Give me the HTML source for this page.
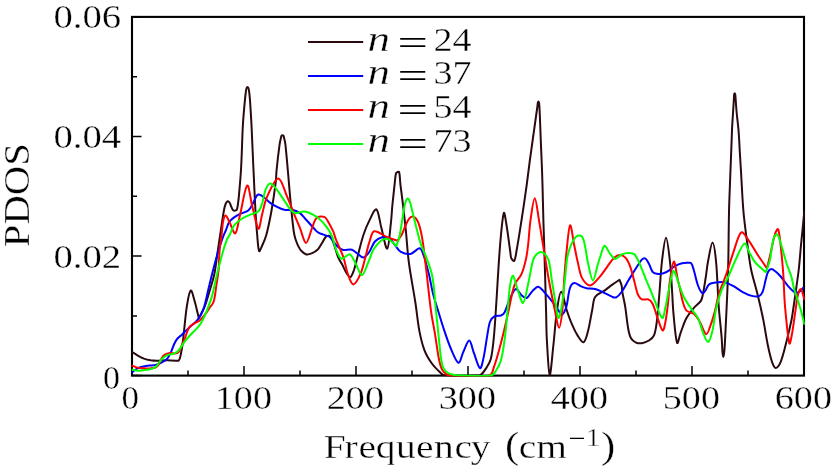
<!DOCTYPE html>
<html><head><meta charset="utf-8"><title>PDOS</title>
<style>html,body{margin:0;padding:0;background:#fff}svg{display:block}text{font-family:"Liberation Serif",serif;fill:#000;stroke:#fff;stroke-width:0.36px}</style></head>
<body>
<svg width="833" height="466" viewBox="0 0 833 466">
<rect width="833" height="466" fill="#fff"/>
<defs><clipPath id="cp"><rect x="131.4" y="16.3" width="673.4" height="360.3"/></clipPath></defs>
<path d="M132.0 375.6V366.1M188.0 375.6V370.6M244.0 375.6V366.1M300.0 375.6V370.6M356.0 375.6V366.1M412.0 375.6V370.6M468.0 375.6V366.1M524.0 375.6V370.6M580.0 375.6V366.1M636.0 375.6V370.6M692.0 375.6V366.1M748.0 375.6V370.6M804.0 375.6V366.1M132.0 375.6H141.5M132.0 315.9H137.0M132.0 256.1H141.5M132.0 196.3H137.0M132.0 136.5H141.5M132.0 76.7H137.0M132.0 16.9H141.5" stroke="#000" stroke-width="1.5" fill="none"/>
<rect x="132.0" y="16.9" width="672.0" height="358.7" fill="none" stroke="#000" stroke-width="2.1"/>
<g clip-path="url(#cp)" fill="none" stroke-linejoin="round" stroke-linecap="butt">
<path d="M131.5 351.6C133.5 352.8 135.4 354.2 137.4 355.3C139.5 356.5 141.7 357.7 144.0 358.6C146.2 359.4 148.5 359.9 150.7 360.3C152.6 360.6 154.2 360.8 156.3 360.8C159.7 360.8 163.4 360.3 167.0 360.3C170.8 360.3 174.7 360.6 178.5 360.8C179.0 360.0 179.6 359.4 179.9 358.3C180.7 355.6 181.3 352.4 181.8 349.2C182.5 345.0 182.9 341.1 183.5 336.0C184.6 326.7 185.4 315.4 186.9 306.0C187.8 300.2 189.3 291.3 190.8 290.5C192.0 289.9 193.6 297.7 194.8 301.7C196.3 307.0 197.5 312.8 198.9 318.3C200.9 314.2 203.2 310.5 204.9 306.0C207.1 300.1 208.9 293.4 210.7 287.3C212.1 282.4 213.5 278.4 214.5 273.2C216.0 265.5 216.9 256.6 218.1 248.7C219.1 242.2 219.9 236.3 220.9 230.0C221.9 223.4 222.9 216.1 224.0 210.0C224.5 207.3 225.0 205.4 225.8 203.5C226.2 202.5 227.0 201.4 227.7 201.2C228.2 201.1 229.1 201.8 229.5 202.5C230.3 203.7 230.6 205.4 231.3 206.8C231.9 208.0 232.4 209.5 233.2 210.3C233.7 210.8 234.6 210.7 235.2 210.6C235.8 210.5 236.5 210.4 236.8 209.8C237.4 208.4 237.6 206.5 237.9 204.5C238.3 201.5 238.7 198.7 239.0 194.8C239.7 186.5 240.6 177.6 241.1 168.0C241.9 154.3 242.1 138.6 242.9 125.0C243.4 115.7 244.3 107.2 245.0 99.3C245.3 96.1 245.6 93.9 245.9 91.5C246.1 90.2 246.2 89.0 246.6 88.0C246.8 87.5 247.2 87.0 247.5 87.0C247.8 87.0 248.2 87.5 248.4 88.0C248.8 89.0 248.9 90.2 249.1 91.5C249.4 93.9 249.7 96.1 249.9 99.3C250.5 107.2 251.0 115.7 251.5 125.0C252.2 138.6 252.7 153.7 253.4 168.0C254.1 182.4 254.7 197.6 255.5 211.2C256.0 219.9 256.5 227.4 257.2 235.0C257.7 240.7 258.0 248.5 259.1 251.0C259.6 252.2 261.1 248.0 262.0 246.0C263.5 242.6 265.1 239.3 266.3 235.0C268.3 227.7 269.9 219.4 271.4 211.2C273.1 201.8 274.6 191.4 275.7 182.4C276.3 177.7 276.1 174.6 276.6 170.0C277.4 161.9 278.5 152.2 279.6 144.3C280.0 141.5 280.5 139.9 280.9 138.0C281.1 137.0 281.2 136.2 281.6 135.6C281.8 135.3 282.2 135.2 282.5 135.2C282.8 135.2 283.2 135.3 283.4 135.6C283.8 136.2 283.9 137.0 284.1 138.0C284.5 139.9 285.1 141.5 285.4 144.3C286.3 152.2 287.0 161.4 287.8 170.0C288.6 178.9 289.3 187.8 290.1 196.8C291.0 206.3 292.0 216.7 293.0 225.6C293.4 229.5 293.8 232.1 294.4 235.0C294.8 236.9 295.2 238.3 295.8 240.0C296.4 241.8 297.1 243.7 298.0 245.5C298.9 247.2 299.7 249.1 301.0 250.5C302.5 252.1 304.4 254.0 306.3 254.5C308.1 254.9 310.4 254.0 312.2 253.2C314.3 252.3 316.4 250.9 318.0 249.3C319.6 247.6 320.6 245.3 321.9 243.3C323.2 241.2 324.2 238.6 325.7 237.0C326.5 236.1 327.7 235.7 328.6 235.8C329.6 235.9 330.8 236.7 331.5 237.8C332.8 240.1 333.5 243.1 334.5 246.0C335.8 249.7 336.8 254.1 338.3 257.7C339.4 260.3 340.9 262.1 342.2 264.5C343.6 267.2 344.7 270.4 346.3 272.8C347.4 274.6 349.3 277.5 350.4 277.1C351.8 276.6 353.0 272.7 354.0 270.0C355.4 265.9 356.3 261.4 357.6 256.6C359.4 249.7 361.2 241.8 363.4 235.0C365.1 229.9 366.9 225.4 369.2 220.9C371.3 216.8 374.6 208.3 376.4 209.3C378.7 210.7 379.7 221.8 381.4 228.1C383.3 234.9 385.7 249.4 387.2 248.7C388.9 247.9 389.8 231.9 390.8 223.8C391.6 217.3 391.8 211.3 392.4 205.0C393.1 198.2 393.9 190.8 394.6 184.3C395.1 180.2 395.2 176.4 396.0 173.2C396.2 172.4 396.9 172.3 397.5 172.1C398.0 171.9 399.0 171.4 399.2 172.2C400.0 175.5 399.9 179.9 400.4 184.3C401.2 190.9 402.2 197.9 403.0 205.0C404.0 213.4 405.0 222.1 405.9 231.0C406.9 241.1 407.4 251.3 408.8 262.0C410.5 275.0 413.3 289.1 415.3 302.0C416.9 312.3 417.7 322.2 419.5 331.6C420.8 338.3 422.3 344.5 424.5 350.3C426.3 355.1 429.0 359.4 431.7 363.3C433.8 366.4 436.5 368.8 438.9 371.2C440.4 372.7 441.5 374.1 443.2 374.8C445.2 375.6 447.1 375.4 450.0 375.5C457.7 375.7 467.3 375.7 475.0 375.5C477.5 375.4 479.1 375.9 480.7 374.8C483.0 373.3 484.8 370.2 486.5 367.6C488.2 364.9 489.9 362.5 490.8 359.0C492.3 352.9 493.0 345.9 493.7 338.8C494.6 329.9 495.1 321.7 495.8 311.0C497.2 290.5 498.4 265.6 500.1 245.0C501.1 233.0 502.4 217.5 503.8 213.0C504.5 210.8 505.7 220.4 506.5 225.0C507.9 233.4 509.1 243.7 510.3 252.0C510.7 254.8 510.5 256.5 511.3 258.2C511.8 259.4 513.6 261.6 514.2 260.8C515.4 259.2 515.8 255.0 516.5 251.0C518.2 241.8 519.8 231.3 521.4 221.0C523.2 209.3 525.1 196.6 526.7 185.0C527.9 176.2 528.8 168.1 529.9 160.0C530.8 153.1 531.8 146.7 532.7 140.0C533.6 133.3 534.6 126.4 535.5 120.0C536.2 115.2 536.8 110.7 537.4 106.5C537.6 104.9 537.6 103.8 537.9 102.6C538.0 102.1 538.3 101.6 538.5 101.6C538.7 101.6 538.9 102.1 539.0 102.6C539.2 103.8 539.3 104.7 539.4 106.5C539.7 112.2 540.0 118.9 540.2 125.0C540.4 130.4 540.6 135.3 540.8 141.0C541.1 148.7 541.5 157.2 541.8 165.0C542.1 171.8 542.3 177.7 542.5 185.0C542.8 196.4 543.1 209.2 543.4 221.0C543.7 231.5 544.1 240.5 544.4 252.0C545.0 270.8 545.6 293.3 546.1 312.0C546.4 322.2 546.3 329.5 546.8 338.8C547.5 350.4 548.5 373.5 549.7 374.8C550.7 375.9 552.2 355.9 553.3 346.0C554.6 334.6 555.3 322.0 556.9 311.0C557.9 303.9 559.5 291.7 561.2 291.7C562.9 291.7 565.0 304.9 567.0 311.0C568.6 315.8 570.1 320.1 572.0 324.4C573.7 328.4 575.6 332.5 577.8 335.9C579.4 338.4 582.1 342.9 583.6 342.3C585.5 341.5 586.8 335.7 587.9 331.6C589.7 324.9 590.8 316.8 592.2 310.0C593.2 305.3 593.0 300.4 595.1 296.9C596.8 294.1 600.9 293.1 603.7 291.1C606.6 289.0 609.5 286.7 612.4 284.6C614.8 282.9 617.1 281.4 619.5 279.8C620.2 281.7 621.1 283.5 621.6 285.5C622.1 287.6 621.9 289.5 622.3 292.0C623.1 296.6 624.4 301.4 625.2 306.6C626.3 313.5 626.9 321.5 628.1 328.2C628.8 332.1 629.5 335.5 631.0 338.3C632.1 340.3 634.1 341.7 636.0 342.6C637.7 343.4 639.9 343.5 641.8 343.2C644.2 342.8 646.9 341.8 649.0 340.5C651.0 339.2 653.0 337.8 654.0 335.4C655.7 331.3 656.2 326.2 656.9 321.0C657.9 313.4 658.4 305.5 659.1 297.0C660.1 285.5 660.7 272.4 662.0 261.0C663.0 252.7 664.7 237.8 666.0 237.8C667.3 237.8 669.0 253.0 669.9 261.0C671.0 270.4 671.4 280.5 672.0 290.0C672.6 298.1 672.7 305.7 673.5 313.8C674.4 323.3 675.5 338.6 677.1 342.8C677.9 344.8 679.3 336.2 680.7 332.6C682.5 327.9 684.1 322.5 686.5 318.1C688.5 314.4 691.1 311.2 693.7 308.1C695.9 305.4 699.2 303.6 700.9 300.9C702.3 298.7 702.4 296.4 703.0 293.6C704.1 288.5 704.9 282.5 705.8 277.0C706.6 271.6 707.0 266.4 708.1 261.0C709.3 254.9 711.2 242.6 712.5 242.6C713.8 242.6 715.3 253.8 716.0 261.0C717.4 274.9 717.6 291.6 718.7 306.0C719.5 316.9 720.8 327.3 721.6 337.0C722.1 342.8 722.1 347.7 722.5 352.5C722.7 354.4 723.0 357.0 723.3 357.0C723.6 357.0 724.0 354.4 724.2 352.5C724.7 347.7 724.9 342.8 725.2 337.0C725.7 327.3 726.2 316.5 726.7 306.0C727.2 294.2 727.8 282.9 728.1 270.0C728.6 251.6 728.6 230.5 729.0 212.0C729.3 198.8 729.9 186.8 730.3 175.0C730.6 166.8 730.9 159.6 731.2 152.0C731.5 144.6 731.7 137.2 732.0 130.0C732.3 123.2 732.8 116.3 733.2 110.0C733.5 105.8 733.7 102.1 733.9 98.5C734.0 96.8 734.0 95.5 734.2 94.2C734.3 93.8 734.5 93.3 734.7 93.3C734.9 93.3 735.1 93.8 735.2 94.2C735.4 95.5 735.5 96.7 735.6 98.5C735.9 102.7 736.2 107.3 736.6 112.0C737.1 117.8 738.0 123.8 738.5 130.0C739.1 137.2 739.4 144.6 739.8 152.0C740.3 159.6 740.7 166.8 741.2 175.0C741.9 186.8 742.4 199.8 743.5 212.0C744.5 223.5 746.2 235.1 747.6 246.0C748.7 254.4 749.6 262.0 751.2 270.0C752.9 278.2 755.6 286.2 757.6 294.5C759.7 303.0 761.7 311.8 763.4 320.4C765.0 328.5 766.1 336.8 767.7 344.5C769.0 350.6 770.2 356.6 772.0 361.8C772.9 364.4 774.2 367.9 775.6 367.9C777.1 367.9 779.5 364.7 780.7 361.8C783.2 355.9 784.7 348.4 786.5 341.6C788.3 334.5 790.1 326.9 791.5 320.0C792.5 315.1 792.9 311.5 793.7 306.0C795.3 294.8 797.3 281.5 798.7 270.0C799.7 261.5 800.1 254.5 800.9 246.0C802.0 234.5 803.3 222.0 804.5 210.0" stroke="#2a0a0e" stroke-width="2.0"/>
<path d="M131.5 373.0C132.9 371.8 134.1 370.5 135.6 369.5C137.1 368.5 138.6 367.7 140.3 367.1C142.1 366.5 144.0 366.3 145.9 366.0C147.8 365.7 149.7 365.6 151.6 365.4C153.2 365.2 154.8 365.0 156.3 364.6C157.9 364.2 159.5 363.6 161.0 362.9C162.7 362.1 164.4 361.1 165.8 360.0C166.9 359.1 167.8 358.0 168.6 356.7C169.7 355.0 170.5 353.1 171.4 351.1C172.4 348.8 173.2 346.1 174.3 343.8C175.1 342.0 175.9 340.4 177.1 339.0C178.5 337.3 180.5 336.0 182.2 334.4C184.0 332.7 185.6 331.0 187.6 329.1C190.8 326.1 194.9 323.2 197.7 319.7C200.2 316.5 202.1 313.1 203.5 308.9C205.7 302.7 206.9 295.2 208.5 288.7C209.8 283.3 210.9 278.5 212.3 273.2C213.9 267.1 215.5 260.6 217.3 254.5C218.9 249.1 220.6 243.6 222.4 238.6C223.5 235.4 224.8 232.9 226.0 230.0C227.2 227.1 227.7 223.7 229.6 221.3C231.7 218.6 235.1 216.6 238.2 214.8C241.3 213.0 245.6 212.5 248.3 210.5C250.4 208.9 251.3 206.3 252.6 204.0C254.2 201.3 255.3 197.6 257.0 195.4C257.7 194.5 258.9 194.5 259.8 194.8C261.3 195.2 262.8 196.4 264.2 197.5C266.1 199.0 267.8 201.1 269.9 202.6C272.1 204.2 274.6 205.7 277.1 206.9C279.4 208.1 281.8 209.3 284.3 209.8C287.1 210.4 290.3 209.5 293.0 210.1C295.6 210.7 298.1 211.9 300.2 213.4C302.1 214.7 303.4 216.8 305.0 218.5C306.7 220.3 308.4 222.2 310.0 224.0C311.5 225.7 313.0 227.4 314.5 229.0C315.5 230.1 316.4 231.2 317.5 232.0C318.6 232.8 319.8 233.3 321.0 233.8C322.3 234.3 323.6 234.7 325.0 235.2C326.5 235.7 328.2 235.9 329.5 236.8C330.7 237.7 331.4 239.1 332.5 240.4C334.1 242.3 335.6 244.8 337.5 246.5C339.2 248.0 341.0 249.5 343.2 250.0C345.8 250.6 349.3 249.0 351.9 249.7C354.1 250.3 355.7 252.4 357.6 253.7C359.5 255.0 361.6 257.8 363.4 257.5C365.4 257.2 367.6 254.3 369.2 252.0C371.4 248.9 372.5 244.3 374.9 241.5C376.8 239.4 379.6 237.8 382.1 237.2C384.4 236.7 387.3 237.0 389.3 238.2C391.7 239.7 393.1 243.1 395.1 245.4C397.0 247.6 398.4 250.5 400.9 251.9C403.6 253.4 407.5 254.5 410.5 253.9C413.7 253.3 417.0 248.4 419.5 248.3C421.2 248.3 422.1 251.1 423.0 253.6C425.2 259.6 427.1 267.0 428.8 273.8C430.5 280.5 431.4 287.4 433.1 294.0C434.6 299.8 436.5 305.4 438.2 311.0C439.9 316.5 441.3 321.7 443.2 327.3C445.4 333.9 447.7 341.1 450.4 347.5C452.7 352.9 455.9 361.9 458.4 362.7C460.3 363.3 461.6 355.4 463.4 351.8C465.2 348.0 467.5 340.6 469.2 340.6C470.9 340.6 472.0 347.9 473.5 351.8C475.6 357.1 478.0 367.1 480.0 368.2C481.4 369.0 482.7 361.6 483.6 357.6C485.1 350.9 486.0 342.8 487.2 335.9C488.1 330.8 488.6 325.7 490.1 321.5C491.0 319.2 492.6 317.4 494.4 316.4C496.2 315.4 499.0 316.2 500.9 315.5C502.4 314.9 503.6 314.2 504.5 312.5C506.7 308.4 508.0 302.7 510.1 298.3C511.8 294.9 513.8 289.5 515.9 289.0C517.6 288.6 519.5 293.7 521.6 295.4C523.1 296.7 525.2 298.6 526.7 298.0C528.8 297.2 530.3 293.1 532.4 291.1C534.2 289.4 536.3 286.5 538.2 286.7C540.4 287.0 542.6 290.4 544.7 292.6C547.2 295.2 549.6 298.2 551.9 301.2C554.4 304.4 556.9 308.2 559.1 311.3C560.2 312.8 560.9 315.4 561.8 314.9C563.3 314.0 565.3 310.2 566.3 307.0C568.0 301.3 568.1 293.7 569.9 288.2C570.7 285.7 572.4 283.4 574.2 283.1C576.0 282.7 578.5 285.2 580.7 286.1C582.6 286.9 584.4 287.8 586.5 288.2C589.2 288.7 592.3 288.3 595.1 289.0C598.0 289.8 600.9 291.3 603.7 292.6C606.6 293.9 609.6 295.9 612.4 296.9C613.8 297.4 615.1 297.9 616.3 297.3C618.2 296.3 620.0 294.2 621.6 292.0C624.2 288.4 626.4 283.8 628.8 279.8C631.2 275.9 633.6 271.9 636.0 268.2C637.9 265.2 639.7 261.8 641.8 259.6C642.8 258.6 644.4 257.9 645.4 258.5C646.8 259.4 647.9 261.9 649.0 263.9C650.3 266.4 651.0 269.8 652.6 271.8C653.6 273.1 655.3 273.5 656.9 273.7C658.9 274.0 661.3 273.9 663.4 273.3C665.4 272.8 667.4 271.6 669.2 270.4C671.2 269.2 672.8 267.3 674.9 266.1C677.1 264.9 679.7 263.8 682.1 263.2C684.0 262.7 686.1 262.8 687.9 262.8C689.1 262.8 690.4 262.4 691.1 263.2C692.3 264.7 692.9 267.1 693.7 269.7C695.2 274.6 696.2 280.7 698.0 285.5C699.1 288.5 700.7 291.9 702.3 293.1C703.1 293.7 704.4 292.1 705.2 291.0C706.6 289.2 707.2 285.9 709.0 284.4C710.7 283.0 713.5 282.7 715.9 282.4C718.7 282.0 721.7 281.6 724.5 282.2C727.5 282.8 730.3 284.4 733.1 285.9C736.5 287.7 739.8 290.5 743.2 292.3C746.1 293.8 749.0 295.2 751.9 295.9C754.3 296.5 757.1 296.9 759.1 296.1C760.7 295.4 761.9 293.6 762.7 291.6C764.1 288.2 764.6 283.8 765.6 280.1C766.4 277.2 766.8 274.3 768.0 272.0C768.7 270.6 770.1 269.2 771.3 269.0C772.4 268.8 773.8 270.0 775.0 271.0C776.9 272.5 778.9 274.4 780.7 276.5C783.2 279.4 785.3 283.0 787.9 285.9C790.1 288.4 792.6 291.3 795.1 292.5C796.5 293.2 798.1 292.4 799.4 291.6C801.0 290.6 802.3 288.7 803.7 287.3" stroke="#0000ff" stroke-width="2.0"/>
<path d="M131.5 365.2C133.5 366.0 135.4 367.1 137.4 367.6C139.3 368.1 141.2 368.1 143.1 368.2C145.3 368.4 147.5 368.6 149.7 368.5C151.6 368.4 153.7 368.1 155.4 367.5C156.6 367.0 157.5 366.3 158.2 365.2C159.3 363.6 160.0 361.4 161.0 359.6C161.9 358.1 162.7 356.4 163.9 355.3C164.8 354.4 166.1 354.0 167.2 353.6C168.3 353.2 169.4 353.1 170.5 353.1C171.7 353.1 173.1 353.4 174.3 353.4C175.4 353.4 176.7 353.4 177.6 352.9C178.6 352.3 179.3 351.2 179.9 350.1C180.8 348.4 181.5 346.3 182.3 344.4C183.1 342.5 183.8 340.9 184.7 338.8C186.1 335.3 187.2 330.7 189.1 327.6C190.2 325.7 192.1 324.9 193.8 323.8C195.6 322.6 197.9 321.9 199.6 320.5C201.6 318.9 203.3 316.7 204.9 314.7C206.5 312.7 207.8 310.5 209.2 308.4C210.7 306.2 212.7 304.6 213.6 301.7C215.2 296.6 215.6 290.1 216.5 284.4C217.3 279.5 218.1 275.0 218.6 270.0C219.1 264.1 219.0 257.7 219.5 251.6C220.0 245.8 221.0 239.9 221.7 234.3C222.2 230.0 222.2 225.8 223.0 222.0C223.5 219.5 224.5 215.6 225.5 215.4C226.5 215.2 227.8 218.8 229.0 221.0C231.1 224.8 233.6 234.2 235.2 233.3C237.3 232.2 238.3 221.6 240.0 215.0C242.3 205.7 244.9 187.5 247.2 185.6C248.9 184.2 250.3 198.4 252.0 205.0C254.0 212.7 256.4 226.7 258.4 228.7C259.7 230.0 260.7 219.7 262.0 215.0C263.6 209.1 264.4 202.6 267.0 196.8C269.9 190.4 274.9 178.4 278.3 178.4C281.6 178.4 284.4 190.5 287.2 196.8C290.3 203.8 293.1 211.7 295.9 218.4C297.4 222.1 298.6 224.6 300.0 228.1C301.9 232.8 304.0 242.9 306.0 242.9C308.0 242.9 310.2 232.6 312.1 227.9C313.2 225.1 313.8 222.5 315.0 220.3C315.7 219.0 316.5 217.9 317.6 217.2C318.7 216.6 320.2 216.3 321.5 216.4C322.8 216.5 324.4 216.6 325.4 217.6C327.0 219.2 328.1 221.8 329.4 224.0C330.8 226.5 332.2 229.1 333.3 231.7C334.4 234.3 334.8 236.7 336.0 239.7C338.1 245.1 341.2 250.9 343.2 256.8C345.3 262.8 346.2 269.7 348.3 275.3C349.6 278.9 351.4 284.6 353.3 284.4C355.5 284.1 358.7 278.1 360.5 273.9C363.1 267.8 364.5 260.1 366.3 253.7C367.4 249.6 367.9 246.2 369.2 242.6C370.6 238.8 371.4 232.2 374.2 231.3C377.2 230.3 382.4 235.1 386.5 236.8C390.2 238.3 393.8 239.5 397.4 240.8C398.8 238.8 400.5 237.1 401.7 234.8C403.2 231.9 404.2 228.3 405.6 225.3C406.7 223.0 407.6 220.6 409.0 218.8C409.9 217.7 411.2 216.7 412.3 216.6C413.4 216.5 414.8 217.3 415.7 218.2C416.9 219.5 417.8 221.5 418.6 223.4C419.6 226.0 420.3 228.9 421.0 231.9C421.8 235.6 422.4 238.9 423.0 243.5C424.3 252.9 425.5 263.4 426.7 273.8C428.1 285.9 429.4 299.3 431.0 311.0C432.0 318.6 433.4 324.4 434.6 331.6C436.1 340.4 437.3 350.6 438.9 359.0C439.7 363.1 440.4 366.1 441.8 369.1C442.8 371.2 444.5 372.9 446.1 374.1C447.3 375.0 448.0 375.4 450.4 375.5C462.4 375.9 478.5 377.5 489.3 375.5C492.9 374.8 492.5 370.8 493.7 367.6C495.9 361.9 497.6 355.2 499.4 348.9C501.2 342.3 502.9 335.3 504.5 328.7C505.9 322.7 507.1 317.2 508.5 311.0C510.4 302.8 511.7 293.0 514.4 285.3C516.1 280.6 519.8 278.0 521.6 273.8C523.6 269.3 524.8 264.3 525.9 259.4C527.0 254.7 527.5 250.2 528.1 245.0C529.0 237.4 529.3 228.9 530.4 221.0C531.5 213.3 533.3 198.3 534.8 198.3C536.2 198.3 537.7 213.3 539.1 221.0C540.6 229.4 541.8 237.6 543.3 246.5C545.1 257.6 547.0 269.7 549.0 281.0C550.9 291.2 553.0 301.6 555.0 311.0C556.3 317.2 557.9 327.8 559.1 327.8C560.3 327.8 561.6 317.2 562.3 311.0C563.3 301.6 563.4 291.0 564.1 281.0C564.8 270.7 565.6 260.1 566.7 250.0C567.6 241.5 568.8 226.1 570.1 225.2C571.3 224.4 572.9 238.5 574.2 245.0C575.4 250.9 576.4 256.6 577.8 262.3C579.1 267.7 579.7 273.6 582.1 278.1C583.8 281.4 587.4 285.7 590.1 285.5C593.2 285.3 596.8 280.0 599.7 276.8C602.5 273.7 604.7 270.1 607.2 266.8C609.6 263.6 611.7 259.8 614.4 257.4C616.1 255.9 618.3 255.0 620.2 255.1C622.1 255.2 624.5 256.5 625.9 258.1C627.8 260.4 629.1 263.6 630.3 266.8C631.8 270.9 632.8 275.6 633.9 279.8C634.8 283.3 635.6 286.8 636.5 290.0C637.0 291.9 637.3 293.6 638.2 295.1C639.1 296.7 640.2 298.7 641.8 299.4C643.6 300.2 646.5 298.7 648.3 299.4C650.1 300.1 651.6 301.6 652.6 303.7C654.7 307.9 655.8 313.4 657.6 318.1C659.2 322.4 661.2 330.0 662.7 330.5C663.9 330.9 664.9 324.7 665.6 321.0C666.8 314.3 667.7 306.4 668.4 299.4C669.0 293.7 668.8 288.6 669.6 283.0C670.6 276.0 672.4 262.2 673.8 261.6C675.1 261.1 676.5 274.1 677.8 279.8C678.6 283.2 679.3 285.8 680.0 289.0C681.0 293.3 681.7 298.2 682.9 302.3C683.8 305.4 684.6 308.6 686.5 310.6C688.2 312.4 691.7 312.2 693.7 313.8C696.0 315.6 697.7 318.2 699.4 321.0C701.9 325.0 704.1 333.7 706.2 334.2C707.9 334.6 709.6 327.6 711.0 323.9C712.7 319.4 714.0 314.4 715.3 309.5C716.6 304.6 717.1 299.7 718.7 294.5C720.8 287.7 724.1 280.5 726.5 273.5C728.9 266.7 730.7 259.9 733.1 253.2C735.6 246.3 737.9 235.7 741.1 232.5C742.7 230.9 745.6 236.1 747.6 238.8C751.1 243.5 754.2 249.5 757.6 254.7C760.7 259.4 763.9 263.8 767.0 268.4C768.2 263.3 769.4 258.4 770.6 253.2C772.0 247.1 773.1 240.1 774.9 234.5C775.6 232.1 777.5 228.1 778.1 229.3C779.4 231.9 780.0 240.0 780.7 246.0C781.7 254.6 782.5 263.7 783.2 273.0C784.0 283.7 784.0 294.8 785.0 306.0C786.1 318.2 787.6 335.9 789.3 343.2C789.9 345.6 791.2 338.3 791.8 335.0C793.1 328.3 794.0 320.3 795.1 313.2C796.1 306.8 796.7 300.1 798.0 294.5C798.6 292.1 800.0 289.0 800.9 289.0C801.7 289.0 802.4 292.6 803.0 294.5C803.6 296.3 804.0 298.2 804.5 300.0" stroke="#ff0000" stroke-width="2.0"/>
<path d="M131.5 369.4C133.5 369.8 135.4 370.6 137.4 370.7C139.3 370.8 141.2 370.4 143.1 370.2C145.0 370.0 147.0 369.9 148.8 369.5C150.4 369.2 152.1 368.8 153.5 368.1C154.7 367.5 155.8 366.7 156.8 365.7C157.9 364.6 158.6 363.1 159.6 361.9C160.6 360.6 161.7 359.2 162.9 358.1C164.1 357.0 165.3 356.0 166.7 355.3C167.9 354.7 169.2 354.7 170.5 354.4C171.8 354.1 173.1 353.9 174.3 353.4C175.5 352.9 176.6 352.4 177.6 351.5C178.8 350.4 179.8 348.8 180.9 347.3C182.2 345.5 183.2 343.5 184.7 341.6C186.8 338.9 189.4 336.1 191.8 333.5C193.7 331.4 195.9 329.7 197.6 327.7C199.0 326.1 200.2 324.6 201.3 322.6C203.1 319.3 204.8 315.7 206.4 311.8C208.4 306.8 210.5 301.4 212.1 295.9C213.9 289.5 215.0 282.7 216.6 276.1C218.2 269.4 219.9 262.4 221.7 255.9C223.2 250.4 224.9 244.9 226.7 240.1C227.5 237.9 228.7 236.9 229.6 235.0C231.1 232.1 231.9 228.3 233.9 225.6C235.8 223.0 238.5 221.0 241.1 219.2C243.8 217.4 246.9 216.2 249.8 214.8C252.6 213.5 256.3 213.1 258.4 211.2C260.3 209.5 261.1 206.8 262.0 204.0C263.5 199.6 263.9 193.9 265.6 189.6C266.6 187.0 268.5 183.6 270.2 183.4C271.8 183.2 274.0 186.2 275.7 188.2C278.2 191.2 280.5 194.9 282.9 198.3C285.3 201.8 287.5 206.0 290.1 209.1C291.6 210.9 293.2 212.8 295.1 213.2C297.0 213.7 299.5 212.0 301.6 211.8C303.5 211.6 305.3 211.3 307.2 212.0C310.5 213.2 314.3 215.0 317.3 217.3C320.5 219.7 323.4 222.9 325.9 226.0C328.2 228.9 330.2 232.0 331.7 235.5C333.6 239.8 334.2 245.1 336.0 249.4C337.5 252.9 339.1 257.9 341.5 258.8C343.7 259.6 347.5 253.6 349.7 254.3C352.2 255.1 353.6 260.1 355.5 263.3C357.7 267.1 359.9 275.2 362.0 275.2C364.1 275.1 366.1 267.2 368.0 263.0C370.0 258.6 371.2 253.6 373.5 249.6C375.4 246.3 378.0 243.2 380.7 241.0C382.5 239.6 384.9 238.6 386.9 238.8C388.8 239.0 390.6 240.7 392.2 242.0C393.7 243.2 394.9 244.8 396.3 246.2C397.3 243.1 398.6 240.7 399.4 236.8C401.1 228.6 402.4 218.2 403.8 210.0C404.4 206.6 404.7 204.4 405.5 202.0C406.0 200.5 407.1 198.5 407.9 198.5C408.6 198.5 409.5 200.6 410.0 202.0C410.9 204.4 411.1 206.5 412.0 210.0C414.6 220.2 417.5 232.9 420.5 243.0C422.1 248.4 424.2 251.7 425.9 256.5C428.2 262.9 431.0 269.3 432.4 276.7C434.4 287.4 434.8 299.8 436.0 311.0C437.0 320.5 437.9 329.8 438.9 338.8C439.6 345.8 440.2 352.8 441.1 359.0C441.6 362.4 442.0 365.1 443.2 367.6C444.2 369.7 445.9 371.5 447.6 372.7C449.2 373.9 451.3 374.4 453.3 374.8C455.4 375.3 457.0 375.4 460.0 375.5C469.5 375.7 481.9 376.9 490.8 375.5C494.1 375.0 495.0 372.1 496.5 369.8C498.3 367.0 499.9 363.9 500.9 360.4C502.3 355.9 502.9 350.9 503.7 346.0C504.6 340.4 505.3 334.5 505.9 328.7C506.5 322.8 506.9 317.2 507.5 311.0C508.3 302.8 508.9 293.2 510.1 285.3C510.7 281.5 511.9 275.5 513.0 275.8C514.2 276.2 515.5 283.5 517.0 287.5C518.9 292.5 521.4 303.8 523.1 302.8C525.3 301.6 527.0 288.3 528.8 281.0C530.6 273.4 531.2 264.4 533.9 258.0C535.3 254.8 538.8 251.8 541.1 252.0C543.6 252.2 547.0 255.9 548.3 259.4C550.6 265.6 550.7 273.8 551.9 281.0C553.1 288.2 554.3 295.7 555.5 302.6C556.4 308.0 557.2 317.0 558.4 318.0C559.2 318.8 560.8 312.0 561.5 308.0C562.9 299.7 563.8 289.8 564.8 281.0C565.7 273.3 566.1 265.5 567.1 258.6C567.6 254.9 568.5 252.1 569.5 249.0C570.4 246.3 571.6 243.7 572.9 241.3C573.9 239.5 575.0 237.8 576.3 236.6C577.1 235.9 578.2 235.6 579.2 235.6C580.2 235.6 581.4 235.8 582.1 236.6C583.0 237.7 583.5 239.5 584.0 241.3C584.8 244.3 585.3 247.6 585.9 250.9C586.6 254.7 586.9 258.4 587.9 262.5C589.3 268.3 591.2 280.2 592.9 280.4C594.5 280.6 596.4 268.9 598.0 263.7C598.9 260.8 599.5 258.6 600.5 256.0C601.7 252.7 602.9 246.2 604.6 245.8C606.1 245.5 608.1 251.4 610.1 253.8C611.7 255.7 613.3 258.8 615.2 258.9C617.2 259.0 619.3 255.5 621.6 254.5C623.8 253.5 626.5 253.0 628.8 253.0C630.8 253.0 633.2 253.0 634.6 254.5C637.0 257.1 638.6 261.5 640.3 265.3C642.4 269.9 644.2 275.2 646.1 279.8C647.4 283.1 648.7 285.8 650.0 289.0C651.6 292.8 653.0 296.7 654.8 300.9C657.1 306.4 660.1 316.9 662.2 318.0C663.7 318.8 664.6 310.7 665.6 306.6C667.0 300.7 667.8 294.1 669.2 288.0C670.5 282.2 671.8 271.9 673.5 271.0C674.9 270.3 676.9 278.9 678.5 283.0C680.2 287.4 681.5 292.2 683.6 296.5C685.6 300.6 688.3 304.4 690.8 308.1C693.1 311.6 696.1 314.4 698.0 318.1C700.2 322.5 701.1 328.1 703.0 332.6C704.5 336.0 706.6 342.2 708.1 342.0C709.7 341.7 711.4 335.3 712.4 331.1C714.1 324.0 714.6 315.4 716.3 308.0C717.7 301.8 719.5 295.8 721.6 290.2C723.4 285.5 726.0 281.6 728.1 277.0C730.8 271.2 733.2 264.8 736.0 259.0C738.6 253.6 741.7 245.0 744.4 243.5C746.1 242.6 747.4 249.0 749.0 251.8C750.9 255.1 752.6 258.9 754.8 261.9C756.5 264.2 758.6 265.8 760.5 267.6C762.2 269.2 764.0 270.7 765.8 272.2C767.2 268.3 768.9 264.8 769.9 260.4C771.4 253.7 771.7 245.2 773.5 238.8C774.1 236.5 776.1 233.8 777.1 234.4C778.5 235.3 779.6 239.7 780.7 243.1C782.7 249.3 784.5 256.9 786.5 263.3C788.1 268.2 790.2 272.5 791.5 277.0C792.6 280.5 792.6 283.4 793.7 287.3C795.7 294.5 798.8 302.9 800.9 310.3C802.4 315.4 803.3 320.0 804.5 324.8" stroke="#00ff00" stroke-width="2.0"/>
</g>
<line x1="308" y1="42.0" x2="363.2" y2="42.0" stroke="#2a0a0e" stroke-width="2.2"/>
<line x1="308" y1="76.0" x2="363.2" y2="76.0" stroke="#0000ff" stroke-width="2.2"/>
<line x1="308" y1="110.0" x2="363.2" y2="110.0" stroke="#ff0000" stroke-width="2.2"/>
<line x1="308" y1="144.0" x2="363.2" y2="144.0" stroke="#00ff00" stroke-width="2.2"/>
<text x="367.6" y="50.6" font-size="36" font-style="italic" textLength="22.5" lengthAdjust="spacingAndGlyphs">n</text>
<text x="397.5" y="54.6" font-size="36" textLength="30.4" lengthAdjust="spacingAndGlyphs" style="stroke:none">=</text>
<text x="433.6" y="50.6" font-size="34.6" text-anchor="start" textLength="38.0" lengthAdjust="spacingAndGlyphs">24</text>
<text x="367.6" y="84.4" font-size="36" font-style="italic" textLength="22.5" lengthAdjust="spacingAndGlyphs">n</text>
<text x="397.5" y="88.4" font-size="36" textLength="30.4" lengthAdjust="spacingAndGlyphs" style="stroke:none">=</text>
<text x="433.6" y="84.4" font-size="34.6" text-anchor="start" textLength="38.0" lengthAdjust="spacingAndGlyphs">37</text>
<text x="367.6" y="118.2" font-size="36" font-style="italic" textLength="22.5" lengthAdjust="spacingAndGlyphs">n</text>
<text x="397.5" y="122.2" font-size="36" textLength="30.4" lengthAdjust="spacingAndGlyphs" style="stroke:none">=</text>
<text x="433.6" y="118.2" font-size="34.6" text-anchor="start" textLength="38.0" lengthAdjust="spacingAndGlyphs">54</text>
<text x="367.6" y="152.0" font-size="36" font-style="italic" textLength="22.5" lengthAdjust="spacingAndGlyphs">n</text>
<text x="397.5" y="156.0" font-size="36" textLength="30.4" lengthAdjust="spacingAndGlyphs" style="stroke:none">=</text>
<text x="433.6" y="152.0" font-size="34.6" text-anchor="start" textLength="38.0" lengthAdjust="spacingAndGlyphs">73</text>
<text x="53.4" y="28.4" font-size="34.6" text-anchor="start" textLength="67.8" lengthAdjust="spacingAndGlyphs">0.06</text>
<text x="53.4" y="148.2" font-size="34.6" text-anchor="start" textLength="67.8" lengthAdjust="spacingAndGlyphs">0.04</text>
<text x="53.4" y="267.8" font-size="34.6" text-anchor="start" textLength="67.8" lengthAdjust="spacingAndGlyphs">0.02</text>
<text x="103.0" y="388.8" font-size="34.6" text-anchor="start" textLength="17.0" lengthAdjust="spacingAndGlyphs">0</text>
<text x="121.4" y="409.0" font-size="34.6" text-anchor="start" textLength="17.5" lengthAdjust="spacingAndGlyphs">0</text>
<text x="214.8" y="409.0" font-size="34.6" text-anchor="start" textLength="57.2" lengthAdjust="spacingAndGlyphs">100</text>
<text x="326.8" y="409.0" font-size="34.6" text-anchor="start" textLength="57.2" lengthAdjust="spacingAndGlyphs">200</text>
<text x="438.8" y="409.0" font-size="34.6" text-anchor="start" textLength="57.2" lengthAdjust="spacingAndGlyphs">300</text>
<text x="550.8" y="409.0" font-size="34.6" text-anchor="start" textLength="57.2" lengthAdjust="spacingAndGlyphs">400</text>
<text x="662.8" y="409.0" font-size="34.6" text-anchor="start" textLength="57.2" lengthAdjust="spacingAndGlyphs">500</text>
<text x="774.8" y="409.0" font-size="34.6" text-anchor="start" textLength="57.2" lengthAdjust="spacingAndGlyphs">600</text>
<text transform="translate(0,457.8) scale(1.16,1)" font-size="34" x="279.2 296.9 309.1 323.9 341.4 358.6 374.1 391.9 405.8 422.8">Frequency <tspan font-size="37" x="435.3">(</tspan><tspan x="447.1 462.3">cm</tspan><tspan font-size="26" x="490.4" dy="-10.4" style="stroke:none">−</tspan><tspan font-size="24.5" x="505.2" dy="-1.2">1</tspan><tspan font-size="37" x="518.1" dy="11.6">)</tspan></text>
<text transform="translate(29.2,247.2) rotate(-90)" font-size="36" textLength="104" lengthAdjust="spacingAndGlyphs">PDOS</text>
</svg>
</body></html>
